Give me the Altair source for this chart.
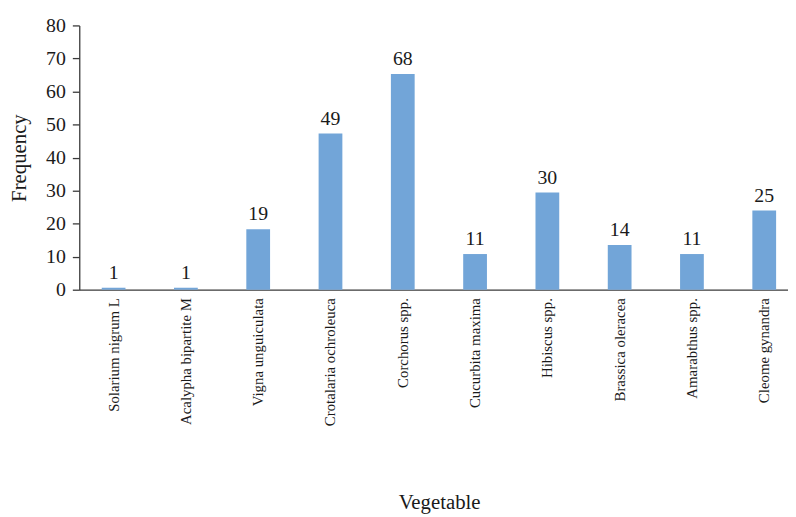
import altair as alt
import pandas as pd

vegetables = [
    "Solarium nigrum L", "Acalypha bipartite M", "Vigna unguiculata",
    "Crotalaria ochroleuca", "Corchorus spp.", "Cucurbita maxima",
    "Hibiscus spp.", "Brassica oleracea", "Amarabthus spp.", "Cleome gynandra",
]
# bar heights as drawn in the picture
bar_heights = [0.6, 0.6, 18.3, 47.3, 65.3, 10.8, 29.4, 13.5, 10.8, 24.0]
# printed value labels
value_labels = ["1", "1", "19", "49", "68", "11", "30", "14", "11", "25"]
y_ticks = [0, 10, 20, 30, 40, 50, 60, 70, 80]

df = pd.DataFrame({"Vegetable": vegetables, "Frequency": bar_heights, "label": value_labels})

FONT = "Liberation Serif"
BLUE = "#72a5d8"
AXIS = "#3a3a3a"
TXT = "#1a1a1a"

x = alt.X(
    "Vegetable:N", sort=None,
    scale=alt.Scale(paddingInner=0.6714, paddingOuter=0.2376, align=0.654),
    axis=alt.Axis(
        title="Vegetable", labelAngle=-90, ticks=False, tickSize=0, labelPadding=8,
        labelFontSize=15, labelFont=FONT, labelColor=TXT,
        titleFontSize=21, titleFont=FONT, titleFontWeight="normal", titleColor=TXT,
        titleX=363.5, titleY=221, titleBaseline="alphabetic", titleAlign="center",
        domainColor=AXIS, domainWidth=1.3, labelLimit=300,
    ),
)
y = alt.Y(
    "Frequency:Q",
    scale=alt.Scale(domain=[0, 80], nice=False),
    axis=alt.Axis(
        title="Frequency", values=y_ticks, grid=False,
        labelOverlap=False,
        tickSize=7, tickColor=AXIS, tickWidth=1.3, labelPadding=7,
        labelFontSize=20, labelFont=FONT, labelColor=TXT,
        titleFontSize=21, titleFont=FONT, titleFontWeight="normal", titleColor=TXT,
        titleX=-60, titleY=133.5, titleBaseline="middle", titleAlign="center", titleAngle=-90,
        domainColor=AXIS, domainWidth=1.3,
    ),
)

bars = alt.Chart(df).mark_bar(color=BLUE).encode(x=x, y=y)
texts = alt.Chart(df).mark_text(
    font=FONT, fontSize=20, color=TXT, baseline="alphabetic", dy=-9
).encode(x=x, y=y, text="label:N")

chart = (
    alt.layer(bars, texts)
    .properties(
        width=716, height=267,
        autosize=alt.AutoSizeParams(type="none"),
        padding={"left": 72, "top": 15, "right": 0, "bottom": 226},
    )
    .configure_view(strokeWidth=0)
)

chart.save("out.html", embed_options={"renderer": "svg", "actions": False})
